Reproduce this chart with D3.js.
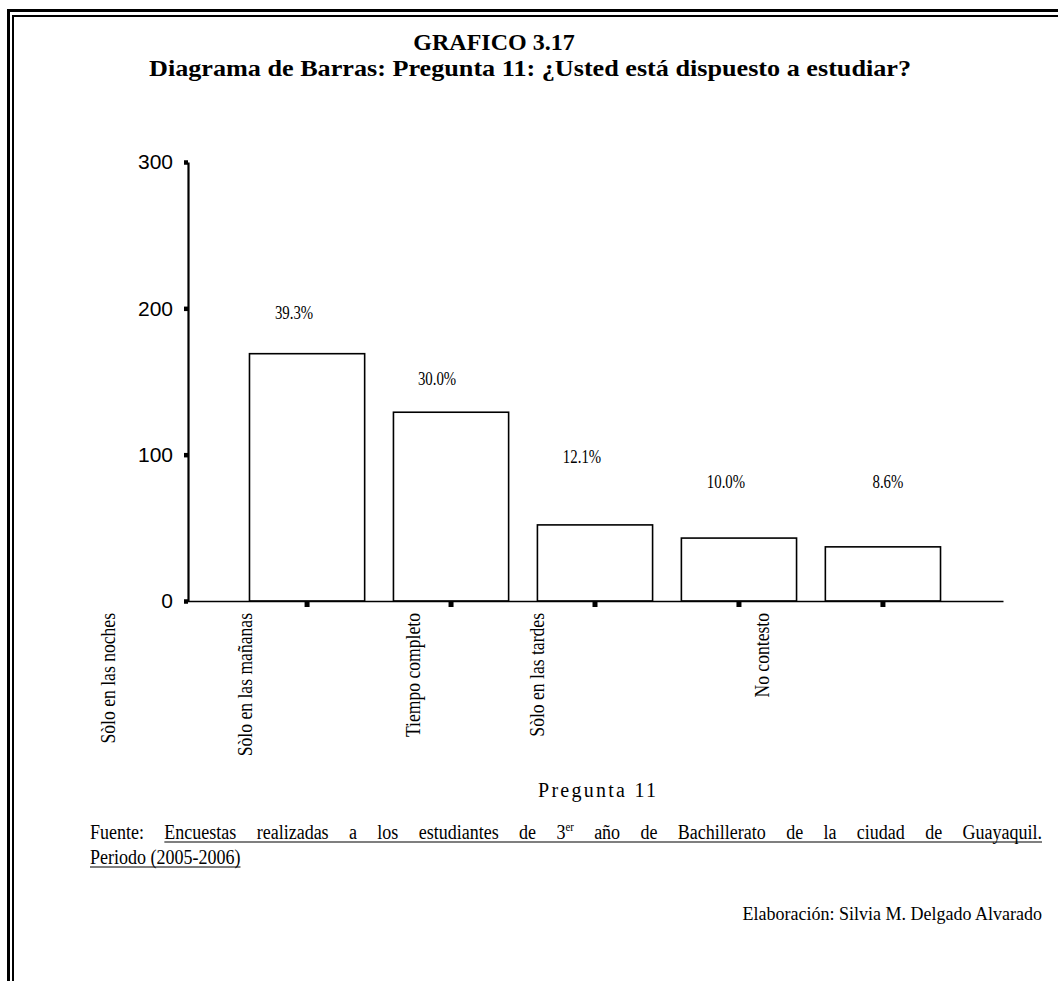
<!DOCTYPE html>
<html><head><meta charset="utf-8">
<script src="https://cdn.jsdelivr.net/npm/d3@7"></script>
<style>body{margin:0;background:#fff} svg{display:block}</style>
</head><body><svg id="c" width="1058" height="981"></svg>
<script>
// ---- data ----
const categories = ["Sòlo en las noches", "Sòlo en las mañanas", "Tiempo completo", "Sòlo en las tardes", "No contesto"];
const counts = [169, 129, 52, 43, 37];
const yTicks = [0, 100, 200, 300];
const titleLine1 = "GRAFICO 3.17";
const titleLine2 = "Diagrama de Barras: Pregunta 11: ¿Usted está dispuesto a estudiar?";
const axisTitle = "Pregunta 11";
const sourceWords = ["Encuestas", "realizadas", "a", "los", "estudiantes", "de", "3|er", "año", "de", "Bachillerato", "de", "la", "ciudad", "de", "Guayaquil."];
const sourceLine2 = "Periodo (2005-2006)";
const credit = "Elaboración: Silvia M. Delgado Alvarado";

// ---- label placement (layout, not data) ----
const pctLabelLevel = [197, 152, 99, 82, 82];   // in y-axis units
const pctLabelShift = [-13, -14, -13, -13, 5];  // px from bar centre
const catLabelX = [108, 245, 413, 537, 762];

const svg = d3.select("#c");
const serif = "'Liberation Serif','Times New Roman',serif";
const sans = "'Liberation Sans',Arial,sans-serif";

// the reference renders its serif text horizontally condensed
function condense(sel, k) {
  sel.each(function () {
    const w = this.getComputedTextLength();
    d3.select(this).attr("textLength", w * k).attr("lengthAdjust", "spacingAndGlyphs");
  });
  return sel;
}

svg.append("rect").attr("width", 1058).attr("height", 981).attr("fill", "#fff");

// frame (double line, left & top)
const frame = svg.append("g").attr("stroke", "#000").attr("fill", "none");
frame.append("line").attr("x1", 8.5).attr("x2", 8.5).attr("y1", 9).attr("y2", 981).attr("stroke-width", 3);
frame.append("line").attr("x1", 7).attr("x2", 1058).attr("y1", 10.5).attr("y2", 10.5).attr("stroke-width", 3);
frame.append("line").attr("x1", 13).attr("x2", 13).attr("y1", 15).attr("y2", 981).attr("stroke-width", 2);
frame.append("line").attr("x1", 12).attr("x2", 1058).attr("y1", 16).attr("y2", 16).attr("stroke-width", 2);

// titles
svg.append("text").attr("x", 494).attr("y", 50).attr("text-anchor", "middle")
  .attr("font-family", serif).attr("font-weight", "bold").attr("font-size", 24).text(titleLine1);
svg.append("text").attr("x", 530).attr("y", 76).attr("text-anchor", "middle")
  .attr("font-family", serif).attr("font-weight", "bold").attr("font-size", 24)
  .attr("textLength", 762).attr("lengthAdjust", "spacingAndGlyphs").text(titleLine2);

// scales
const x = d3.scaleBand().domain(categories).range([187, 1003]).paddingInner(0.2).paddingOuter(0.434);
const y = d3.scaleLinear().domain([0, 300]).range([601, 162]);
const total = d3.sum(counts);
const pct = d3.format(".1%");

// bars
svg.append("g").selectAll("rect").data(categories).join("rect")
  .attr("x", d => x(d)).attr("width", x.bandwidth())
  .attr("y", (d, i) => y(counts[i])).attr("height", (d, i) => y(0) - y(counts[i]))
  .attr("fill", "#fff").attr("stroke", "#000").attr("stroke-width", 1.6);

// y axis
const ya = svg.append("g").attr("transform", "translate(188,0)")
  .call(d3.axisLeft(y).tickValues(yTicks).tickSizeInner(4).tickSizeOuter(0).tickPadding(11).tickFormat(d3.format("d")));
ya.select(".domain").attr("stroke-width", 2.2);
ya.selectAll(".tick line").attr("stroke-width", 4.5);
ya.selectAll(".tick text").attr("font-family", sans).attr("font-size", 21).attr("fill", "#000");

// x axis
const xa = svg.append("g").attr("transform", "translate(0,601)")
  .call(d3.axisBottom(x).tickSizeInner(6).tickSizeOuter(0).tickFormat(""));
xa.select(".domain").attr("stroke-width", 1.6);
xa.selectAll(".tick line").attr("stroke-width", 5);

// percentage labels
condense(svg.append("g").selectAll("text").data(categories).join("text")
  .attr("x", (d, i) => x(d) + x.bandwidth() / 2 + pctLabelShift[i])
  .attr("y", (d, i) => y(pctLabelLevel[i]))
  .attr("dy", "0.35em").attr("text-anchor", "middle")
  .attr("font-family", serif).attr("font-size", 19)
  .text((d, i) => pct(counts[i] / total)), 0.78);

// category labels (rotated)
condense(svg.append("g").selectAll("text").data(categories).join("text")
  .attr("transform", (d, i) => `translate(${catLabelX[i]},613) rotate(-90)`)
  .attr("dy", "0.35em").attr("text-anchor", "end")
  .attr("font-family", serif).attr("font-size", 20)
  .text(d => d), 0.88);

// axis title
svg.append("text").attr("x", 597).attr("y", 797).attr("text-anchor", "middle")
  .attr("font-family", serif).attr("font-size", 20)
  .attr("textLength", 118).attr("lengthAdjust", "spacing").text(axisTitle);

// source (justified line)
const fs = 20, kf = 0.9, left = 90, right = 1042, base1 = 839, base2 = 864;
const src = svg.append("g").attr("font-family", serif).attr("font-size", fs);
const words = ["Fuente:"].concat(sourceWords);
const nodes = words.map(w => {
  const t = src.append("text").attr("y", base1);
  if (w.includes("|")) {
    const [a, b] = w.split("|");
    t.append("tspan").text(a);
    t.append("tspan").attr("font-size", 12).attr("dy", -8).text(b);
  } else t.text(w);
  condense(t, kf);
  return t;
});
const widths = nodes.map(n => +n.attr("textLength"));
const gap = (right - left - d3.sum(widths)) / (words.length - 1);
let cx = left, ulStart = 0;
nodes.forEach((n, i) => {
  n.attr("x", cx);
  if (i === 1) ulStart = cx;
  cx += widths[i] + gap;
});
src.append("line").attr("x1", ulStart).attr("x2", right).attr("y1", base1 + 3).attr("y2", base1 + 3)
  .attr("stroke", "#000").attr("stroke-width", 1.2);
const l2 = condense(src.append("text").attr("x", left).attr("y", base2).text(sourceLine2), kf);
const w2 = +l2.attr("textLength");
src.append("line").attr("x1", left).attr("x2", left + w2).attr("y1", base2 + 3).attr("y2", base2 + 3)
  .attr("stroke", "#000").attr("stroke-width", 1.2);

// credit
svg.append("text").attr("x", right).attr("y", 920).attr("text-anchor", "end")
  .attr("font-family", serif).attr("font-size", 18).text(credit);
</script></body></html>
